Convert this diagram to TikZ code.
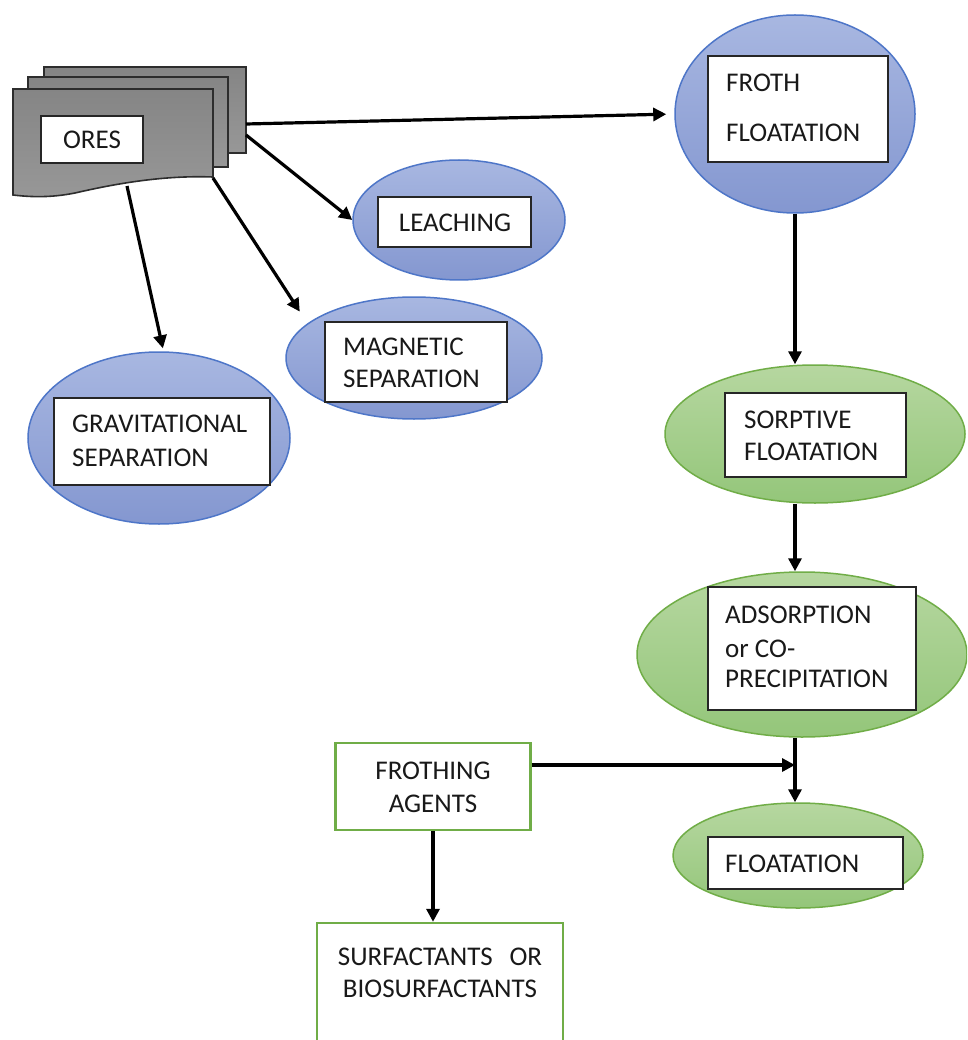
\documentclass[tikz,border=0pt]{standalone}
\usepackage{fontspec}
\setmainfont{Carlito}
\usetikzlibrary{shapes.geometric,arrows.meta}
\definecolor{bluefillT}{RGB}{168,183,225}
\definecolor{bluefillB}{RGB}{132,151,208}
\definecolor{blueline}{RGB}{78,118,200}
\definecolor{greenfillT}{RGB}{182,215,160}
\definecolor{greenfillB}{RGB}{148,198,122}
\definecolor{greenline}{RGB}{112,173,71}
\definecolor{sheetcol}{RGB}{140,140,140}
\definecolor{sheetline}{RGB}{45,45,45}
\definecolor{txtcol}{RGB}{25,25,25}
\begin{document}
\begin{tikzpicture}[x=1pt,y=-1pt,
  blueell/.style={ellipse, draw=blueline, line width=1.5pt, top color=bluefillT, bottom color=bluefillB, inner sep=0pt},
  greenell/.style={ellipse, draw=greenline, line width=1.5pt, top color=greenfillT, bottom color=greenfillB, inner sep=0pt},
  wbox/.style={rectangle, draw=black!85, line width=1.8pt, fill=white, inner sep=0pt},
  gbox/.style={rectangle, draw=greenline, line width=2.4pt, fill=white, inner sep=0pt},
  txt/.style={text=txtcol, font=\fontsize{27}{31}\selectfont, inner sep=0pt},
  sheet/.style={draw=sheetline, line width=1.6pt, top color=sheetcol!95!black, bottom color=sheetcol!90!white},
  arr/.style={draw=black, line width=3.2pt, -{Triangle[length=13pt,width=13pt]}}]
\useasboundingbox (0,0) rectangle (967,1040);
\fill[white] (0,0) rectangle (967,1040);
\clip (0,0) rectangle (967,1040);

% ORES document stack
\path[sheet] (44,67) rectangle (246,153);
\path[sheet] (28,77) rectangle (228,167);
\path[sheet] (13,89) -- (213,89) -- (213,177)
  .. controls (160,175) and (110,185) .. (75,193)
  .. controls (50,198) and (30,197) .. (13,195) -- cycle;
\node[wbox, minimum width=102pt, minimum height=47pt] (ores) at (92,139.5) {};
\node[txt] (oresT) at (92,140) {ORES};
\coordinate (oA) at (246,124);
\coordinate (oB) at (246,135);
\coordinate (oC) at (213,178);
\coordinate (oD) at (127,186);

% Froth floatation
\node[blueell, minimum width=240pt, minimum height=198pt] (froth) at (795,114) {};
\node[wbox, minimum width=180pt, minimum height=106pt] (frothbox) at (798,109) {};
\node[txt, anchor=west] (frothT1) at (726,83) {FROTH};
\node[txt, anchor=west] (frothT2) at (726,133) {FLOATATION};

% Leaching
\node[blueell, minimum width=212pt, minimum height=120pt] (leach) at (459,220) {};
\node[wbox, minimum width=153pt, minimum height=50pt] (leachbox) at (454.5,222) {};
\node[txt] (leachT) at (455,223) {LEACHING};

% Magnetic separation
\node[blueell, minimum width=256pt, minimum height=122pt] (mag) at (414,358) {};
\node[wbox, minimum width=182pt, minimum height=80pt] (magbox) at (416,362) {};
\node[txt, anchor=west] (magT1) at (343,347) {MAGNETIC};
\node[txt, anchor=west] (magT2) at (343,379) {SEPARATION};

% Gravitational separation
\node[blueell, minimum width=262pt, minimum height=172pt] (grav) at (159,438) {};
\node[wbox, minimum width=216pt, minimum height=87pt] (gravbox) at (162,441.5) {};
\node[txt, anchor=west] (gravT1) at (72,424) {GRAVITATIONAL};
\node[txt, anchor=west] (gravT2) at (72,458) {SEPARATION};

% Sorptive floatation
\node[greenell, minimum width=300pt, minimum height=138pt] (sorp) at (815,434) {};
\node[wbox, minimum width=181pt, minimum height=84pt] (sorpbox) at (815.5,435) {};
\node[txt, anchor=west] (sorpT1) at (744,420) {SORPTIVE};
\node[txt, anchor=west] (sorpT2) at (744,452) {FLOATATION};

% Adsorption or co-precipitation
\node[greenell, minimum width=330pt, minimum height=165pt] (ads) at (802,654.5) {};
\node[wbox, minimum width=208pt, minimum height=123pt] (adsbox) at (812,648.5) {};
\node[txt, anchor=west] (adsT1) at (725,615) {ADSORPTION};
\node[txt, anchor=west] (adsT2) at (725,649) {or CO-};
\node[txt, anchor=west] (adsT3) at (725,679) {PRECIPITATION};

% Floatation
\node[greenell, minimum width=250pt, minimum height=105pt] (float) at (798,855.5) {};
\node[wbox, minimum width=195pt, minimum height=52pt] (floatbox) at (805.5,863) {};
\node[txt, anchor=west] (floatT) at (725,864) {FLOATATION};

% Frothing agents
\node[gbox, minimum width=195pt, minimum height=87pt] (fa) at (433,786.5) {};
\node[txt] (faT1) at (433,771) {FROTHING};
\node[txt] (faT2) at (433,804) {AGENTS};

% Surfactants
\node[gbox, minimum width=246pt, minimum height=134pt] (surf) at (440,990) {};
\node[txt] (surfT1) at (440,957) {SURFACTANTS\hspace{0.4em} OR};
\node[txt] (surfT2) at (440,989) {BIOSURFACTANTS};

\coordinate (jn) at (froth.south |- 0,765);

% connectors
\draw[arr, shorten >=8pt] (oA) -- (froth.west);
\draw[arr] (oB) -- (leach.west);
\draw[arr, shorten >=14pt] (oC) -- (mag.162);
\draw[arr, shorten >=3pt] (oD) -- (grav.87);
\draw[arr] (froth.south) -- (froth.south |- sorp.north);
\draw[arr] (froth.south |- sorp.south) -- (froth.south |- ads.north);
\draw[arr] (froth.south |- ads.south) -- (froth.south |- float.north);
\draw[arr] (fa.east |- jn) -- (jn);
\draw[arr] (fa.south) -- (fa.south |- surf.north);
\end{tikzpicture}
\end{document}
